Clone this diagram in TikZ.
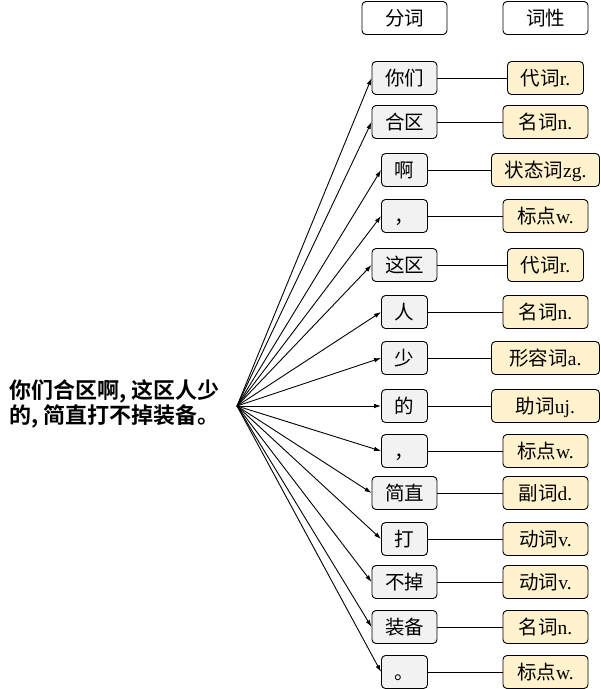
\documentclass[tikz,border=0pt]{standalone}
\usepackage{fontspec}
\setmainfont{Liberation Serif}
\newfontfamily\cjk{Noto Sans CJK SC}[BoldFont={Noto Sans CJK SC Bold}]
\usetikzlibrary{arrows.meta}
\definecolor{tagyellow}{HTML}{FFF2CC}
\definecolor{wordgray}{HTML}{F2F2F2}
\tikzset{
  wordbox/.style={draw, rounded corners=4pt, fill=wordgray, minimum height=33pt,
    inner sep=0pt, text height=17pt, text depth=2.5pt,
    font=\cjk\fontsize{19.5}{19.5}\selectfont},
  tagbox/.style={wordbox, fill=tagyellow},
  headbox/.style={wordbox, fill=white, minimum width=85pt},
}
\begin{document}
\begin{tikzpicture}[x=1pt, y=-1pt, >={Latex[length=7pt,width=4.5pt]}, line width=0.9pt]
  \useasboundingbox (0,0) rectangle (601,689);
  % 1. 表头
  \node[headbox] (hseg) at (404.5,18) {分词};
  \node[headbox] (hpos) at (545.5,18) {词性};
  % 2. 原句
  \node[anchor=west, align=left, inner sep=0pt,
    font=\cjk\bfseries\fontsize{22}{25}\selectfont] (sent) at (9,404)
    {你们合区啊, 这区人少\\的, 简直打不掉装备。};
  \coordinate (o) at (237,406);
  % 3. 分词与词性
  \foreach \y/\word/\ww/\tagzh/\tagen/\tw [count=\i] in {
    78/你们/65/代词/r./76, 122/合区/65/名词/n./85, 170/啊/46/状态词/zg./108,
    216/，/46/标点/w./85, 265/这区/65/代词/r./76, 312/人/46/名词/n./85,
    358/少/46/形容词/a./108, 406/的/46/助词/uj./108, 451/，/46/标点/w./85,
    493/简直/65/副词/d./85, 539/打/46/动词/v./85, 582/不掉/65/动词/v./85,
    627/装备/65/名词/n./85, 672/。/46/标点/w./85}{
    \node[wordbox, minimum width=\ww] (w\i) at (404.5,\y) {\word};
    \node[tagbox, minimum width=\tw] (t\i) at (545.5,\y) {\tagzh{\rmfamily\tagen}};
    \draw[->] (o) -- (w\i.west);
    \draw (w\i) -- (t\i);
  }
\end{tikzpicture}
\end{document}
